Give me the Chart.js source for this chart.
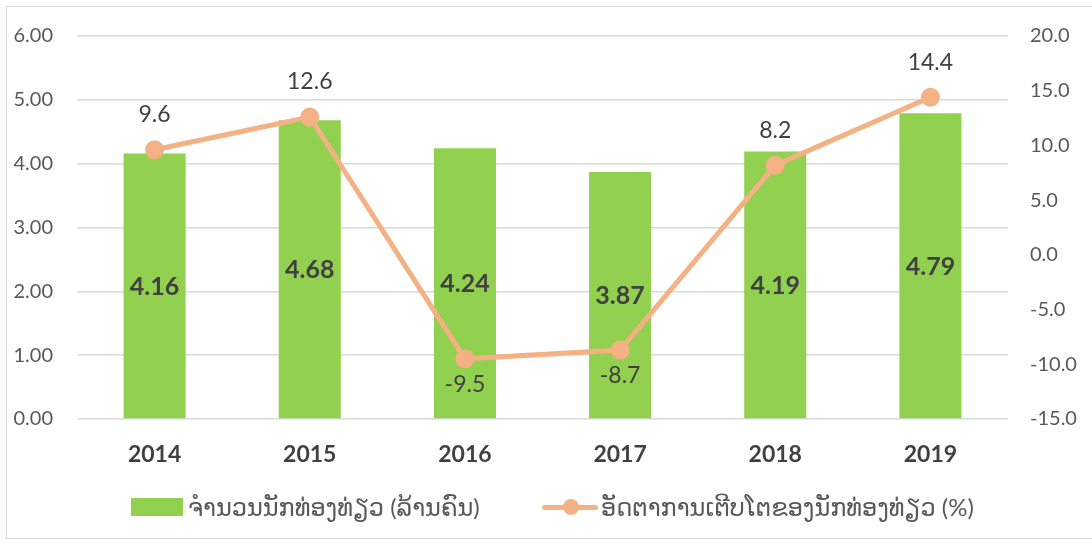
<!DOCTYPE html>
<html lang="lo">
<head>
  <meta charset="UTF-8">
  <title>ນັກທ່ອງທ່ຽວ 2014-2019</title>
  <style>
    body {
      margin: 0;
      background: #ffffff;
      font-family: Lato, 'DejaVu Sans', sans-serif;
    }
    .wrap {
      position: relative;
      width: 1092px;
      height: 550px;
      overflow: hidden;
    }
    .frame {
      position: absolute;
      left: 6px;
      top: 6px;
      width: 1100px;
      height: 531px;
      border: 1px solid #d9d9d9;
    }
    canvas {
      position: absolute;
      left: 0;
      top: 0;
    }
    .legend {
      position: absolute;
      top: 0;
      left: 0;
      color: #595959;
      font-size: 24px;
    }
    .legend .item {
      position: absolute;
      top: 491px;
      height: 32px;
      line-height: 32px;
      white-space: nowrap;
    }
    .swatch {
      position: absolute;
      left: 131px;
      top: 498px;
      width: 52px;
      height: 18px;
      background: #92D050;
    }
    .lineSw {
      position: absolute;
      left: 542px;
      top: 505px;
      width: 56px;
      height: 5px;
      border-radius: 3px;
      background: #F4B183;
    }
    .dot {
      position: absolute;
      left: 563px;
      top: 499px;
      width: 16px;
      height: 16px;
      border-radius: 50%;
      background: #F4B183;
    }
  </style>
</head>
<body>
  <div class="wrap">
    <div class="frame"></div>
    <canvas id="chart" width="1092" height="550"></canvas>
    <div class="legend">
      <div class="swatch"></div>
      <div class="item" id="lg1" style="left:188px"></div>
      <div class="lineSw"></div>
      <div class="dot"></div>
      <div class="item" id="lg2" style="left:601px"></div>
    </div>
  </div>

  <script src="https://cdn.jsdelivr.net/npm/chart.js"></script>
  <script>
    const years = ['2014', '2015', '2016', '2017', '2018', '2019'];
    const tourists = [4.16, 4.68, 4.24, 3.87, 4.19, 4.79];      // ລ້ານຄົນ
    const growth = [9.6, 12.6, -9.5, -8.7, 8.2, 14.4];          // %
    const barLabel = 'ຈຳນວນນັກທ່ອງທ່ຽວ (ລ້ານຄົນ)';
    const lineLabel = 'ອັດຕາການເຕີບໂຕຂອງນັກທ່ອງທ່ຽວ (%)';

    document.getElementById('lg1').textContent = barLabel;
    document.getElementById('lg2').textContent = lineLabel;

    const FONT = "Lato, 'DejaVu Sans', sans-serif";

    // value labels: bars in the middle, line above / below the point
    const valueLabels = {
      id: 'valueLabels',
      afterDatasetsDraw(chart) {
        const ctx = chart.ctx;
        ctx.save();
        ctx.textAlign = 'center';
        ctx.textBaseline = 'middle';
        ctx.fillStyle = '#404040';

        ctx.font = 'bold 25px ' + FONT;
        chart.getDatasetMeta(1).data.forEach((bar, i) => {
          ctx.fillText(tourists[i].toFixed(2), bar.x, (bar.y + bar.base) / 2 + 1);
        });

        ctx.font = '23px ' + FONT;
        chart.getDatasetMeta(0).data.forEach((pt, i) => {
          const v = growth[i];
          const y = v < 0 ? pt.y + 26 : pt.y - 35;
          ctx.fillText(v.toFixed(1), pt.x, y);
        });
        ctx.restore();
      }
    };

    new Chart(document.getElementById('chart'), {
      data: {
        labels: years,
        datasets: [
          {
            type: 'line',
            label: lineLabel,
            data: growth,
            yAxisID: 'y1',
            borderColor: '#F4B183',
            backgroundColor: '#F4B183',
            borderWidth: 5,
            pointRadius: 7,
            pointHoverRadius: 7,
            tension: 0,
            order: 0
          },
          {
            type: 'bar',
            label: barLabel,
            data: tourists,
            yAxisID: 'y',
            backgroundColor: '#92D050',
            categoryPercentage: 1,
            barPercentage: 0.4,
            order: 1
          }
        ]
      },
      options: {
        responsive: false,
        animation: false,
        layout: { padding: { top: 31, bottom: 0, left: 0, right: 0 } },
        plugins: {
          legend: { display: false },
          tooltip: { enabled: false }
        },
        scales: {
          x: {
            grid: { display: false, drawTicks: false },
            border: { display: false },
            ticks: {
              color: '#404040',
              padding: 22,
              font: { family: FONT, size: 23, weight: 'bold' }
            },
            afterFit(s) { s.height = 131; }
          },
          y: {
            position: 'left',
            min: 0,
            max: 6,
            ticks: {
              stepSize: 1,
              color: '#595959',
              padding: 24,
              font: { family: FONT, size: 20 },
              callback: v => v.toFixed(2)
            },
            grid: { color: '#d9d9d9', lineWidth: 1.5, drawTicks: false },
            border: { display: false },
            afterFit(s) { s.width = 77; }
          },
          y1: {
            position: 'right',
            min: -15,
            max: 20,
            ticks: {
              stepSize: 5,
              color: '#595959',
              padding: 22,
              font: { family: FONT, size: 20 },
              callback: v => v.toFixed(1)
            },
            grid: { display: false, drawTicks: false },
            border: { display: false },
            afterFit(s) { s.width = 84; }
          }
        }
      },
      plugins: [valueLabels]
    });
  </script>
</body>
</html>
